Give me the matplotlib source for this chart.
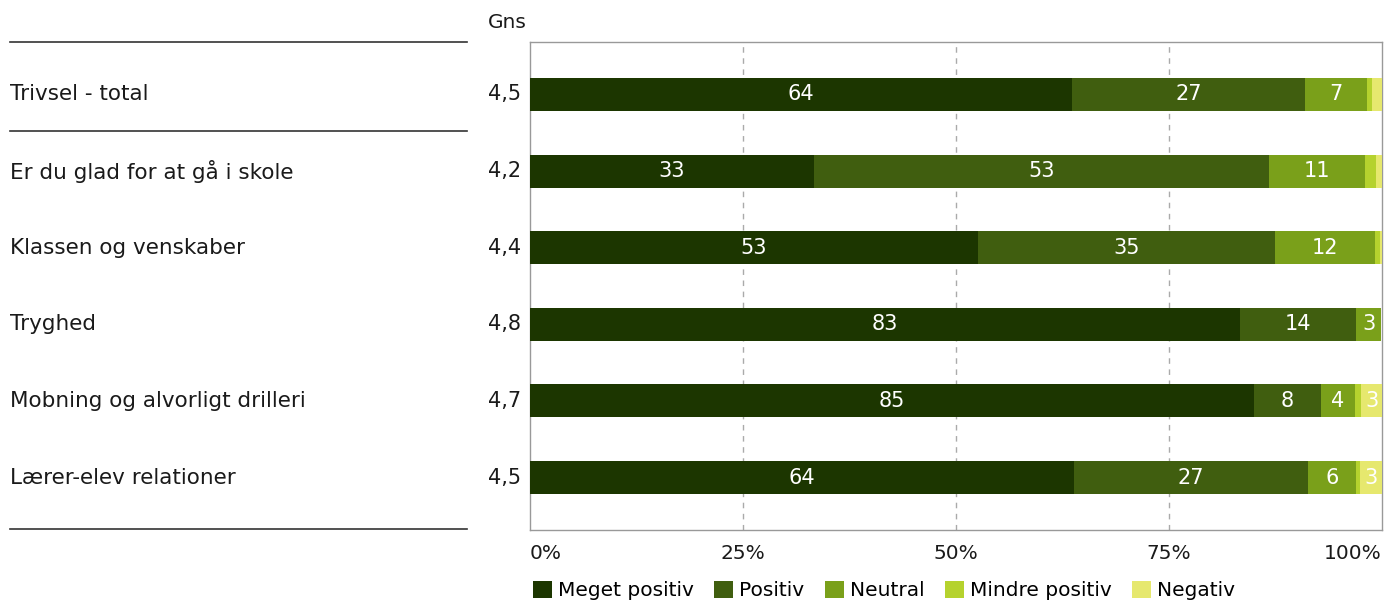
import matplotlib.pyplot as plt
from matplotlib.lines import Line2D
from matplotlib.patches import Patch

# data
categories = ["Trivsel - total", "Er du glad for at gå i skole", "Klassen og venskaber",
              "Tryghed", "Mobning og alvorligt drilleri", "Lærer-elev relationer"]
gns = ["4,5", "4,2", "4,4", "4,8", "4,7", "4,5"]
series_names = ["Meget positiv", "Positiv", "Neutral", "Mindre positiv", "Negativ"]
meget_positiv = [63.6, 33.3, 52.6, 83.3, 85.0, 63.9]
positiv = [27.4, 53.4, 34.8, 13.7, 7.8, 27.4]
neutral = [7.2, 11.3, 11.8, 2.9, 4.0, 5.6]
mindre_positiv = [0.6, 1.3, 0.6, 0.0, 0.7, 0.5]
negativ = [1.2, 0.7, 0.2, 0.0, 2.6, 2.6]
xtick_labels = ["0%", "25%", "50%", "75%", "100%"]

colors = ["#1c3600", "#405e0f", "#7aa01a", "#b5d22e", "#e6e86e"]
series = [meget_positiv, positiv, neutral, mindre_positiv, negativ]
FS = 14.5
TXT = "#1a1a1a"

plt.rcParams['font.family'] = ['DejaVu Sans']
fig = plt.figure(figsize=(13.85, 6.05), dpi=100)
W, H = 1385, 605
ax = fig.add_axes([530 / W, 1 - 530 / H, (1382 - 530) / W, (530 - 42) / H])

y = list(range(len(categories)))
left = [0.0] * len(categories)
for name, vals, col in zip(series_names, series, colors):
    bars = ax.barh(y, vals, left=left, height=0.43, color=col, label=name, zorder=3)
    for b, v in zip(bars, vals):
        if v >= 2.5:
            ax.text(b.get_x() + b.get_width() / 2, b.get_y() + b.get_height() / 2,
                    str(int(round(v))), color="white", ha="center", va="center",
                    fontsize=15, zorder=4)
    left = [l + v for l, v in zip(left, vals)]

ax.set_xlim(0, 100)
ax.set_ylim(5.685, -0.685)
ax.set_yticks([])
ax.set_xticks([0, 25, 50, 75, 100])
ax.set_xticklabels(xtick_labels, fontsize=FS, color=TXT)
ticklabs = ax.get_xticklabels()
ticklabs[0].set_ha("left")
ticklabs[-1].set_ha("right")
ax.tick_params(axis="x", length=0, pad=10)
for x in [25, 50, 75]:
    ax.axvline(x, color="#aaaaaa", linestyle=(0, (4, 4)), linewidth=1, zorder=1)
for s in ax.spines.values():
    s.set_color("#999999")
    s.set_linewidth(1)

# category labels and averages
lab_x = (10 - 530) / (1382 - 530)
for yi, cat, g in zip(y, categories, gns):
    ax.text(lab_x, yi, cat, transform=ax.get_yaxis_transform(), ha="left",
            va="center", fontsize=15.5, color=TXT)
    ax.text(-0.011, yi, g, transform=ax.get_yaxis_transform(), ha="right",
            va="center", fontsize=15, color=TXT)
fig.text(488 / W, 1 - 22 / H, "Gns", ha="left", va="center", fontsize=FS, color=TXT)

# separator lines on the left
for py in [42, 131, 529]:
    fig.add_artist(Line2D([10 / W, 467 / W], [1 - py / H, 1 - py / H],
                          color="#333333", linewidth=1.2))

handles = [Patch(facecolor=c, label=n) for n, c in zip(series_names, colors)]
fig.legend(handles=handles, loc="lower left", bbox_to_anchor=(521 / W, -0.012),
           ncol=5, frameon=False, fontsize=FS, handlelength=0.95, handleheight=0.95,
           handletextpad=0.3, columnspacing=1.0, borderaxespad=0.2)

fig.savefig("out.png", dpi=100)
